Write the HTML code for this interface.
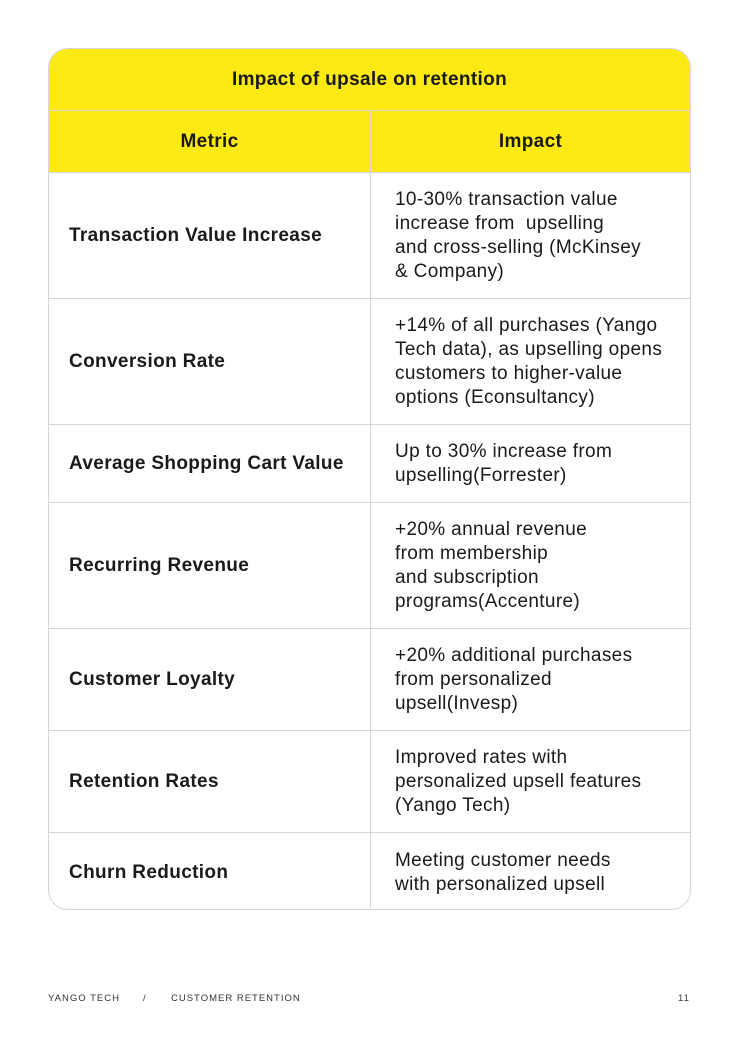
<!DOCTYPE html>
<html><head><meta charset="utf-8"><style>
body{margin:0;width:740px;height:1050px;background:#fff;font-family:"Liberation Sans",sans-serif;color:#1a1a1a;position:relative;overflow:hidden}
.t{position:absolute;left:48px;top:48px;width:641px;height:860px;border:1px solid #d6d6d6;border-radius:20px;overflow:hidden}
.r{position:absolute;left:0;width:641px;border-top:1px solid #d6d6d6;display:flex}
.c1,.c2{display:flex;align-items:center;box-sizing:border-box;font-size:19px;line-height:24px;letter-spacing:0.35px}
.c1{width:322px;padding-left:20px;font-weight:bold;border-right:1px solid #d6d6d6}
.c2{width:319px;padding-left:24px}
.y{background:#fdea14}
.f{position:absolute;top:993px;font-size:9.5px;letter-spacing:1px;color:#333}
</style></head><body>
<div class="t">
<div class="y" style="position:absolute;left:0;top:0;width:641px;height:61px;display:flex;align-items:center;justify-content:center;font-weight:bold;font-size:19px;letter-spacing:0.35px">Impact of upsale on retention</div>
<div class="r y" style="top:61px;height:62px"><div class="c1" style="justify-content:center;padding:0">Metric</div><div class="c2" style="justify-content:center;padding:0;font-weight:bold">Impact</div></div>
<div class="r" style="top:123px;height:126px"><div class="c1">Transaction Value Increase</div><div class="c2">10-30% transaction value<br>increase from &nbsp;upselling<br>and cross-selling (McKinsey<br>&amp; Company)</div></div>
<div class="r" style="top:249px;height:126px"><div class="c1">Conversion Rate</div><div class="c2">+14% of all purchases (Yango<br>Tech data), as upselling opens<br>customers to higher-value<br>options (Econsultancy)</div></div>
<div class="r" style="top:375px;height:78px"><div class="c1">Average Shopping Cart Value</div><div class="c2">Up to 30% increase from<br>upselling(Forrester)</div></div>
<div class="r" style="top:453px;height:126px"><div class="c1">Recurring Revenue</div><div class="c2">+20% annual revenue<br>from membership<br>and subscription<br>programs(Accenture)</div></div>
<div class="r" style="top:579px;height:102px"><div class="c1">Customer Loyalty</div><div class="c2">+20% additional purchases<br>from personalized<br>upsell(Invesp)</div></div>
<div class="r" style="top:681px;height:102px"><div class="c1">Retention Rates</div><div class="c2">Improved rates with<br>personalized upsell features<br>(Yango Tech)</div></div>
<div class="r" style="top:783px;height:79px"><div class="c1">Churn Reduction</div><div class="c2">Meeting customer needs<br>with personalized upsell</div></div>
</div>
<div class="f" style="left:48px">YANGO TECH</div>
<div class="f" style="left:143px">/</div>
<div class="f" style="left:171px">CUSTOMER RETENTION</div>
<div class="f" style="left:678px">11</div>
</body></html>
